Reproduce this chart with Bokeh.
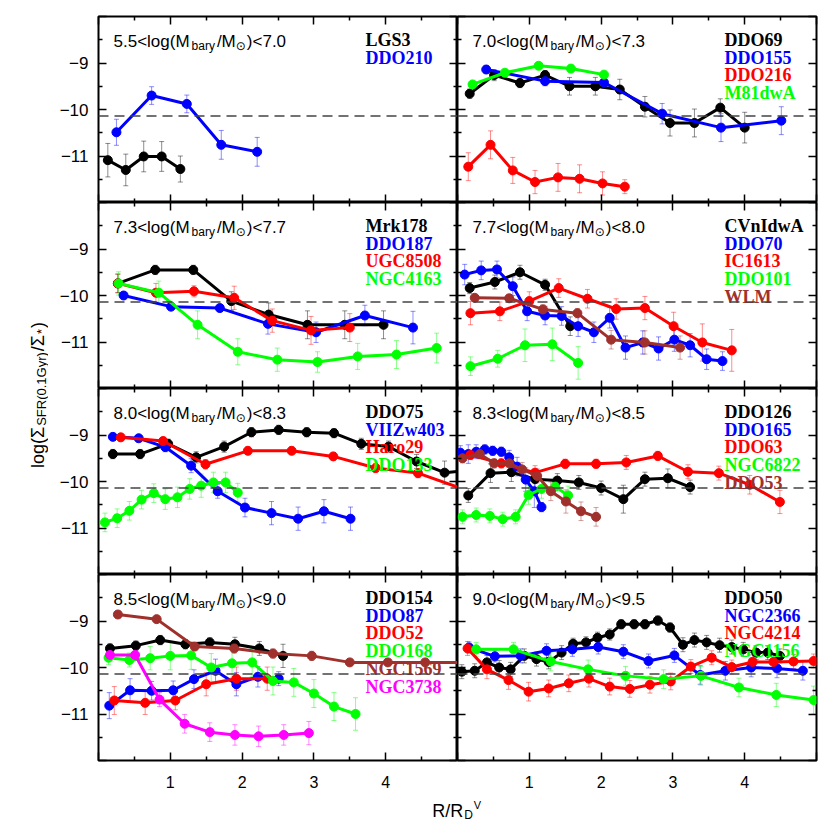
import math
from bokeh.plotting import figure
from bokeh.layouts import gridplot, row, column
from bokeh.models import LinearAxis, FixedTicker, Span, Whisker, TeeHead, ColumnDataSource, Range1d
from bokeh.core.properties import value
from bokeh.embed import file_html
from bokeh.resources import INLINE

# ---------------- axes / ticks ----------------
X_TICKS = [0, 1, 2, 3, 4, 5]
X_MINOR = [0.5, 1.5, 2.5, 3.5, 4.5]
Y_TICKS = [-12, -11, -10, -9, -8]
Y_MINOR = [-11.5, -10.5, -9.5, -8.5]
X_LABELS = {0: "", 1: "1", 2: "2", 3: "3", 4: "4", 5: ""}
Y_LABELS = {-12: "", -11: "\u221211", -10: "\u221210", -9: "\u22129", -8: ""}
MEAN_LEVEL = -10.14

# ---------------- data ----------------
LGS3_x = [0.13, 0.38, 0.63, 0.88, 1.14]
LGS3_y = [-11.09, -11.30, -11.01, -11.01, -11.28]
LGS3_e = [0.36, 0.34, 0.33, 0.32, 0.28]
DDO210_x = [0.25, 0.74, 1.23, 1.71, 2.21]
DDO210_y = [-10.49, -9.70, -9.88, -10.76, -10.91]
DDO210_e = [0.28, 0.19, 0.19, 0.31, 0.31]

DDO69_x = [0.17, 0.51, 0.87, 1.22, 1.56, 1.92, 2.26, 2.61, 2.96, 3.30, 3.66, 4.00]
DDO69_y = [-9.66, -9.26, -9.43, -9.26, -9.50, -9.50, -9.57, -9.94, -10.29, -10.29, -9.96, -10.39]
DDO69_e = [0.10, 0.12, 0.10, 0.10, 0.19, 0.19, 0.22, 0.22, 0.28, 0.30, 0.19, 0.33]
DDO155_x = [0.40, 1.22, 2.04, 2.85, 3.67, 4.51]
DDO155_y = [-9.14, -9.39, -9.42, -10.09, -10.39, -10.24]
DDO155_e = [0.08, 0.10, 0.12, 0.22, 0.30, 0.30]
DDO216_x = [0.15, 0.46, 0.77, 1.08, 1.40, 1.70, 2.02, 2.33]
DDO216_y = [-11.23, -10.76, -11.31, -11.56, -11.46, -11.49, -11.59, -11.66]
DDO216_e = [0.30, 0.30, 0.28, 0.25, 0.30, 0.30, 0.25, 0.15]
M81dwA_x = [0.21, 0.66, 1.13, 1.58, 2.04]
M81dwA_y = [-9.46, -9.21, -9.06, -9.12, -9.25]
M81dwA_e = [0.07, 0.05, 0.05, 0.05, 0.06]

Mrk178_x = [0.27, 0.79, 1.32, 1.85, 2.37, 2.91, 3.43, 3.97]
Mrk178_y = [-9.74, -9.45, -9.45, -10.12, -10.41, -10.63, -10.63, -10.63]
Mrk178_e = [0.20, 0.10, 0.10, 0.20, 0.25, 0.30, 0.30, 0.30]
DDO187_x = [0.35, 1.01, 1.69, 2.36, 3.03, 3.71, 4.38]
DDO187_y = [-10.00, -10.24, -10.27, -10.61, -10.79, -10.43, -10.69]
DDO187_e = [0.07, 0.07, 0.07, 0.22, 0.22, 0.22, 0.35]
UGC8508_x = [0.27, 0.80, 1.33, 1.89, 2.42, 2.96, 3.50]
UGC8508_y = [-9.74, -9.94, -9.91, -10.05, -10.54, -10.75, -10.69]
UGC8508_e = [0.20, 0.20, 0.12, 0.25, 0.25, 0.30, 0.30]
NGC4163_x = [0.28, 0.84, 1.38, 1.94, 2.49, 3.05, 3.61, 4.15, 4.71]
NGC4163_y = [-9.74, -9.94, -10.63, -11.21, -11.38, -11.43, -11.31, -11.27, -11.13]
NGC4163_e = [0.25, 0.25, 0.30, 0.28, 0.25, 0.22, 0.28, 0.30, 0.32]

CVnIdwA_x = [0.17, 0.52, 0.87, 1.22, 1.57]
CVnIdwA_y = [-9.84, -9.71, -9.50, -9.77, -10.66]
CVnIdwA_e = [0.12, 0.15, 0.15, 0.12, 0.20]
DDO70_x = [0.10, 0.33, 0.55, 0.77, 0.97, 1.22, 1.45, 1.68, 1.90, 2.12, 2.34, 2.58, 2.80, 3.02, 3.24, 3.47, 3.69]
DDO70_y = [-9.55, -9.46, -9.44, -9.80, -10.34, -10.43, -10.44, -10.66, -10.79, -10.48, -11.12, -11.01,
           -11.14, -10.95, -11.07, -11.37, -11.41]
DDO70_e = [0.22, 0.20, 0.18, 0.20, 0.20, 0.20, 0.20, 0.22, 0.22, 0.22, 0.25, 0.25, 0.25, 0.25, 0.25, 0.22, 0.20]
IC1613_x = [0.18, 0.59, 1.00, 1.41, 1.81, 2.21, 2.61, 3.01, 3.41, 3.82]
IC1613_y = [-10.38, -10.34, -10.12, -9.84, -10.07, -10.29, -10.27, -10.66, -11.01, -11.18]
IC1613_e = [0.25, 0.20, 0.20, 0.20, 0.20, 0.22, 0.25, 0.30, 0.40, 0.45]
DDO101_x = [0.18, 0.56, 0.94, 1.32, 1.68]
DDO101_y = [-11.52, -11.36, -11.07, -11.05, -11.45]
DDO101_e = [0.20, 0.18, 0.35, 0.35, 0.35]
WLM_x = [0.24, 0.72, 1.19, 1.67, 2.14, 2.61, 3.10]
WLM_y = [-10.05, -10.06, -10.30, -10.38, -10.95, -11.01, -11.12]
WLM_e = [0.05, 0.05, 0.10, 0.10, 0.20, 0.25, 0.25]

DDO75_x = [0.20, 0.58, 0.97, 1.36, 1.75, 2.13, 2.51, 2.90, 3.28, 3.66, 4.04, 4.43, 4.82, 5.20]
DDO75_y = [-9.41, -9.41, -9.19, -9.48, -9.25, -8.94, -8.89, -8.94, -8.96, -9.19, -9.25, -9.57, -9.81, -9.76]
DDO75_e = [0.10, 0.10, 0.10, 0.12, 0.12, 0.10, 0.10, 0.10, 0.10, 0.12, 0.12, 0.15, 0.25, 0.25]
VIIZw403_x = [0.20, 0.56, 0.93, 1.29, 1.66, 2.04, 2.41, 2.78, 3.14, 3.51]
VIIZw403_y = [-9.04, -9.07, -9.26, -9.66, -10.21, -10.56, -10.68, -10.80, -10.64, -10.80]
VIIZw403_e = [0.05, 0.05, 0.10, 0.15, 0.15, 0.20, 0.25, 0.25, 0.25, 0.25]
Haro29_x = [0.31, 0.90, 1.49, 2.08, 2.69, 3.27, 3.86, 4.45, 5.30]
Haro29_y = [-9.05, -9.13, -9.63, -9.34, -9.34, -9.46, -9.71, -9.82, -10.28]
Haro29_e = [0.08, 0.08, 0.10, 0.08, 0.08, 0.08, 0.10, 0.10, 0.10]
DDO133_x = [0.09, 0.26, 0.43, 0.60, 0.77, 0.93, 1.10, 1.27, 1.43, 1.60, 1.77, 1.94]
DDO133_y = [-10.88, -10.79, -10.63, -10.39, -10.25, -10.38, -10.34, -10.16, -10.09, -10.02, -10.02, -10.24]
DDO133_e = [0.20, 0.20, 0.20, 0.20, 0.20, 0.22, 0.22, 0.22, 0.25, 0.22, 0.22, 0.20]

DDO126_x = [0.15, 0.46, 0.75, 1.08, 1.39, 1.69, 2.00, 2.31, 2.61, 2.93, 3.24]
DDO126_y = [-10.30, -9.82, -9.80, -9.95, -9.98, -10.02, -10.14, -10.38, -9.95, -9.93, -10.12]
DDO126_e = [0.15, 0.20, 0.20, 0.20, 0.15, 0.15, 0.15, 0.30, 0.15, 0.20, 0.15]
DDO165_x = [0.04, 0.15, 0.26, 0.38, 0.49, 0.61, 0.72, 0.83, 0.95, 1.07, 1.17]
DDO165_y = [-9.38, -9.41, -9.36, -9.31, -9.34, -9.36, -9.48, -9.68, -9.96, -10.21, -10.55]
DDO165_e = [0.15, 0.20, 0.15, 0.10, 0.10, 0.10, 0.15, 0.20, 0.25, 0.35, 0.10]
DDO63_x = [0.18, 0.61, 1.08, 1.50, 1.93, 2.35, 2.79, 3.21, 3.64, 4.07, 4.49]
DDO63_y = [-9.43, -9.61, -9.81, -9.62, -9.62, -9.59, -9.45, -9.79, -9.82, -10.07, -10.44]
DDO63_e = [0.10, 0.10, 0.15, 0.10, 0.10, 0.15, 0.10, 0.15, 0.15, 0.20, 0.25]
NGC6822_x = [0.07, 0.26, 0.45, 0.63, 0.81, 0.99, 1.17, 1.36, 1.54]
NGC6822_y = [-10.76, -10.72, -10.74, -10.81, -10.76, -10.29, -10.16, -10.11, -10.30]
NGC6822_e = [0.15, 0.15, 0.15, 0.15, 0.15, 0.20, 0.20, 0.20, 0.20]
DDO53_x = [0.07, 0.31, 0.51, 0.72, 0.90, 1.11, 1.30, 1.51, 1.72, 1.93]
DDO53_y = [-9.50, -9.41, -9.61, -9.61, -9.74, -9.88, -10.21, -10.43, -10.64, -10.76]
DDO53_e = [0.10, 0.10, 0.10, 0.15, 0.15, 0.15, 0.20, 0.25, 0.20, 0.20]

DDO154_x = [0.16, 0.52, 0.86, 1.21, 1.55, 1.90, 2.24, 2.57]
DDO154_y = [-9.59, -9.53, -9.41, -9.50, -9.46, -9.50, -9.59, -9.75]
DDO154_e = [0.10, 0.10, 0.10, 0.10, 0.10, 0.15, 0.15, 0.25]
DDO87_x = [0.15, 0.44, 0.74, 1.04, 1.33, 1.63, 1.92, 2.22, 2.51]
DDO87_y = [-10.82, -10.49, -10.50, -10.49, -10.25, -10.07, -10.36, -10.20, -10.24]
DDO87_e = [0.28, 0.25, 0.20, 0.20, 0.20, 0.25, 0.25, 0.22, 0.15]
DDO52_x = [0.22, 0.65, 1.07, 1.50, 1.92, 2.35]
DDO52_y = [-10.71, -10.76, -10.71, -10.36, -10.24, -10.24]
DDO52_e = [0.30, 0.25, 0.20, 0.25, 0.25, 0.25]
DDO168_x = [0.14, 0.43, 0.72, 1.00, 1.29, 1.57, 1.86, 2.14, 2.43, 2.72, 3.00, 3.28, 3.58]
DDO168_y = [-9.79, -9.84, -9.80, -9.75, -9.74, -10.00, -9.91, -9.89, -10.29, -10.32, -10.56, -10.84, -11.00]
DDO168_e = [0.15, 0.15, 0.25, 0.30, 0.30, 0.30, 0.30, 0.30, 0.30, 0.30, 0.30, 0.30, 0.35]
NGC1569_x = [0.27, 0.81, 1.34, 1.89, 2.43, 2.97, 3.50, 4.03, 4.55, 5.10]
NGC1569_y = [-8.86, -8.96, -9.55, -9.59, -9.70, -9.75, -9.89, -9.89, -9.89, -9.89]
NGC1569_e = [0.07, 0.07, 0.07, 0.10, 0.10, 0.10, 0.07, 0.07, 0.07, 0.07]
NGC3738_x = [0.16, 0.51, 0.85, 1.20, 1.55, 1.90, 2.23, 2.58, 2.93]
NGC3738_y = [-9.73, -9.73, -10.69, -11.21, -11.39, -11.45, -11.48, -11.45, -11.41]
NGC3738_e = [0.05, 0.05, 0.15, 0.20, 0.20, 0.22, 0.22, 0.22, 0.25]

DDO50_x = [0.06, 0.24, 0.41, 0.58, 0.74, 0.93, 1.10, 1.27, 1.45, 1.61, 1.79, 1.95, 2.12, 2.28,
           2.46, 2.61, 2.79, 2.96, 3.14, 3.30, 3.47, 3.65, 3.82, 3.98, 4.16, 4.32, 4.49]
DDO50_y = [-10.09, -10.07, -9.89, -10.00, -10.04, -9.75, -9.82, -9.88, -9.68, -9.49, -9.46, -9.36, -9.29,
           -9.07, -9.07, -9.07, -8.99, -9.14, -9.51, -9.41, -9.46, -9.52, -9.56, -9.61, -9.68, -9.68, -9.75]
DDO50_e = [0.15, 0.15, 0.15, 0.15, 0.15, 0.15, 0.15, 0.15, 0.15, 0.12, 0.12, 0.12, 0.12, 0.10,
           0.10, 0.10, 0.10, 0.10, 0.15, 0.15, 0.15, 0.15, 0.15, 0.15, 0.15, 0.15, 0.15]
NGC2366_x = [0.16, 0.52, 0.88, 1.24, 1.60, 1.96, 2.31, 2.66, 3.02, 3.38, 3.73, 4.09, 4.45, 4.81]
NGC2366_y = [-9.57, -9.76, -9.75, -9.64, -9.61, -9.56, -9.66, -9.86, -9.74, -10.16, -10.07, -10.00, -10.02, -10.07]
NGC2366_e = [0.12, 0.12, 0.15, 0.15, 0.15, 0.15, 0.15, 0.15, 0.15, 0.20, 0.20, 0.20, 0.20, 0.20]
NGC4214_x = [0.14, 0.41, 0.71, 0.99, 1.27, 1.55, 1.83, 2.12, 2.40, 2.68, 2.97, 3.25, 3.54, 3.82,
             4.11, 4.40, 4.68, 4.96]
NGC4214_y = [-9.59, -10.04, -10.27, -10.52, -10.45, -10.34, -10.24, -10.41, -10.46, -10.37, -10.30,
             -9.98, -9.79, -9.99, -9.88, -9.88, -9.87, -9.86]
NGC4214_e = [0.15, 0.20, 0.20, 0.20, 0.18, 0.18, 0.18, 0.18, 0.18, 0.18, 0.18, 0.15, 0.15, 0.15,
             0.15, 0.15, 0.15, 0.15]
NGC1156_x = [0.26, 0.78, 1.30, 1.82, 2.34, 2.87, 3.39, 3.92, 4.44, 4.96]
NGC1156_y = [-9.61, -9.61, -9.87, -10.04, -10.18, -10.25, -10.18, -10.43, -10.59, -10.70]
NGC1156_e = [0.15, 0.15, 0.20, 0.20, 0.20, 0.20, 0.20, 0.20, 0.25, 0.30]

MASS_BINS = [("5.5", "7.0"), ("7.0", "7.3"), ("7.3", "7.7"), ("7.7", "8.0"),
             ("8.0", "8.3"), ("8.3", "8.5"), ("8.5", "9.0"), ("9.0", "9.5")]

BLACK, BLUE, RED, GREEN, BROWN, MAGENTA = "#000000", "#0000ff", "#ff0000", "#00ff00", "#a0302c", "#ff00ff"

PANELS = [
    [("LGS3", LGS3_x, LGS3_y, LGS3_e, BLACK), ("DDO210", DDO210_x, DDO210_y, DDO210_e, BLUE)],
    [("DDO69", DDO69_x, DDO69_y, DDO69_e, BLACK), ("DDO155", DDO155_x, DDO155_y, DDO155_e, BLUE),
     ("DDO216", DDO216_x, DDO216_y, DDO216_e, RED), ("M81dwA", M81dwA_x, M81dwA_y, M81dwA_e, GREEN)],
    [("Mrk178", Mrk178_x, Mrk178_y, Mrk178_e, BLACK), ("DDO187", DDO187_x, DDO187_y, DDO187_e, BLUE),
     ("UGC8508", UGC8508_x, UGC8508_y, UGC8508_e, RED), ("NGC4163", NGC4163_x, NGC4163_y, NGC4163_e, GREEN)],
    [("CVnIdwA", CVnIdwA_x, CVnIdwA_y, CVnIdwA_e, BLACK), ("DDO70", DDO70_x, DDO70_y, DDO70_e, BLUE),
     ("IC1613", IC1613_x, IC1613_y, IC1613_e, RED), ("DDO101", DDO101_x, DDO101_y, DDO101_e, GREEN),
     ("WLM", WLM_x, WLM_y, WLM_e, BROWN)],
    [("DDO75", DDO75_x, DDO75_y, DDO75_e, BLACK), ("VIIZw403", VIIZw403_x, VIIZw403_y, VIIZw403_e, BLUE),
     ("Haro29", Haro29_x, Haro29_y, Haro29_e, RED), ("DDO133", DDO133_x, DDO133_y, DDO133_e, GREEN)],
    [("DDO126", DDO126_x, DDO126_y, DDO126_e, BLACK), ("DDO165", DDO165_x, DDO165_y, DDO165_e, BLUE),
     ("DDO63", DDO63_x, DDO63_y, DDO63_e, RED), ("NGC6822", NGC6822_x, NGC6822_y, NGC6822_e, GREEN),
     ("DDO53", DDO53_x, DDO53_y, DDO53_e, BROWN)],
    [("DDO154", DDO154_x, DDO154_y, DDO154_e, BLACK), ("DDO87", DDO87_x, DDO87_y, DDO87_e, BLUE),
     ("DDO52", DDO52_x, DDO52_y, DDO52_e, RED), ("DDO168", DDO168_x, DDO168_y, DDO168_e, GREEN),
     ("NGC1569", NGC1569_x, NGC1569_y, NGC1569_e, BROWN), ("NGC3738", NGC3738_x, NGC3738_y, NGC3738_e, MAGENTA)],
    [("DDO50", DDO50_x, DDO50_y, DDO50_e, BLACK), ("NGC2366", NGC2366_x, NGC2366_y, NGC2366_e, BLUE),
     ("NGC4214", NGC4214_x, NGC4214_y, NGC4214_e, RED), ("NGC1156", NGC1156_x, NGC1156_y, NGC1156_e, GREEN)],
]

# ---------------- layout constants ----------------
FW, FH = 359, 186
X0, X1, Y0, Y1 = 0.0, 5.0, -12.0, -8.0
PX = FW / (X1 - X0)   # px per x unit
PY = FH / (Y1 - Y0)   # px per y unit
TOP_B, BOT_B, LEFT_B, RIGHT_B = 16, 35, 50, 6
YLAB_W, XLAB_H = 48, 33
SANS = "Liberation Sans"
SERIF = "Liberation Serif"

AW = {c: 556 for c in "0123456789"}
AW.update({'.': 278, '<': 584, 'l': 222, 'o': 556, 'g': 556, '(': 333, ')': 333, 'M': 833, '/': 278,
           'b': 556, 'a': 556, 'r': 333, 'y': 500, 'S': 667, 'F': 611, 'R': 722, 'G': 778, 'D': 722,
           'V': 667, '*': 389, '\u03a3': 620, '\u2299': 838})


def tw(s, size):
    return sum(AW.get(ch, 556) for ch in s) * size / 1000.0


def add_axis(p, side, labeled):
    if side in ("below", "above"):
        ax = LinearAxis(ticker=FixedTicker(ticks=X_TICKS, minor_ticks=X_MINOR))
    else:
        ax = LinearAxis(ticker=FixedTicker(ticks=Y_TICKS, minor_ticks=Y_MINOR))
    ax.major_tick_in = 8
    ax.major_tick_out = 0
    ax.minor_tick_in = 4
    ax.minor_tick_out = 0
    ax.major_tick_line_width = 1.5
    ax.minor_tick_line_width = 1.5
    ax.major_tick_line_color = "black"
    ax.minor_tick_line_color = "black"
    ax.axis_line_color = None
    if labeled:
        if side == "below":
            ax.major_label_overrides = X_LABELS
            ax.major_label_standoff = 15
            ax.major_label_text_font_size = "16px"
        else:
            ax.major_label_overrides = Y_LABELS
            ax.major_label_standoff = 10
            ax.major_label_text_font_size = "17px"
        ax.major_label_text_font = SANS
        ax.major_label_text_color = "black"
    else:
        ticks = X_TICKS if side in ("below", "above") else Y_TICKS
        ax.major_label_overrides = {t: "" for t in ticks}
        ax.major_label_text_font_size = "0px"
        ax.major_label_standoff = 0
    p.add_layout(ax, side)


def make_panel(idx):
    r, c = divmod(idx, 2)
    p = figure(frame_width=FW, frame_height=FH, x_range=Range1d(X0, X1), y_range=Range1d(Y0, Y1),
               x_axis_type=None, y_axis_type=None, output_backend="svg", toolbar_location=None,
               min_border_left=LEFT_B if c == 0 else 0, min_border_right=RIGHT_B if c == 1 else 0,
               min_border_top=TOP_B if r == 0 else 0, min_border_bottom=BOT_B if r == 3 else 0)
    p.outline_line_color = "black"
    p.outline_line_width = 2
    p.background_fill_color = "white"
    p.border_fill_color = "white"
    add_axis(p, "below", r == 3)
    add_axis(p, "above", False)
    add_axis(p, "left", c == 0)
    add_axis(p, "right", False)

    p.add_layout(Span(location=MEAN_LEVEL, dimension="width", line_color="#444444",
                      line_width=1.5, line_dash="10 6"))

    for name, xs, ys, es, col in PANELS[idx]:
        src = ColumnDataSource(dict(x=xs, y=ys,
                                    lo=[y - e for y, e in zip(ys, es)],
                                    hi=[y + e for y, e in zip(ys, es)]))
        p.add_layout(Whisker(base="x", upper="hi", lower="lo", source=src,
                             line_color=col, line_alpha=0.45, line_width=1,
                             upper_head=TeeHead(size=5, line_color=col, line_alpha=0.45, line_width=1),
                             lower_head=TeeHead(size=5, line_color=col, line_alpha=0.45, line_width=1)))
        p.line("x", "y", source=src, line_color=col, line_width=3)
        p.scatter("x", "y", source=src, size=9, marker="circle", fill_color=col, line_color=col)

    # title: lo<log(M_bary/M_sun)<hi
    lo, hi = MASS_BINS[idx]
    segs = [(f"{lo}<log(M", 17, 0, 2), ("bary", 12, 4, 2), ("/M", 17, 0, 0),
            ("\u2299", 12, 4, 1), (f")<{hi}", 17, 0, 0)]
    xpx = 15.0
    for s, fs, dy, gap in segs:
        font = "DejaVu Sans" if s == "\u2299" else SANS
        p.text(x=[X0 + xpx / PX], y=[Y1 - (25 + dy) / PY], text=[s], text_font=value(font),
               text_font_size=value(f"{fs}px"), text_color="black",
               text_align="left", text_baseline="alphabetic")
        xpx += tw(s, fs) + gap

    # galaxy names
    names = [s[0] for s in PANELS[idx]]
    cols = [s[4] for s in PANELS[idx]]
    nsrc = ColumnDataSource(dict(x=[X0 + 267 / PX] * len(names),
                                 y=[Y1 - (23.5 + 17.7 * i) / PY for i in range(len(names))],
                                 t=names, c=cols))
    p.text(x="x", y="y", text="t", text_color="c", source=nsrc, text_font=value(SERIF),
           text_font_size=value("18px"), text_font_style="bold",
           text_align="left", text_baseline="alphabetic")
    return p


panels = [make_panel(i) for i in range(8)]
grid = gridplot([[panels[0], panels[1]], [panels[2], panels[3]],
                 [panels[4], panels[5]], [panels[6], panels[7]]], toolbar_location=None)

GRID_H = TOP_B + 4 * FH + BOT_B
GRID_W = (LEFT_B + FW) + (FW + RIGHT_B)


def label_fig(w, h):
    f = figure(frame_width=w, frame_height=h, x_range=Range1d(0, w), y_range=Range1d(0, h),
               x_axis_type=None, y_axis_type=None, output_backend="svg", toolbar_location=None,
               min_border=0, min_border_left=0, min_border_right=0, min_border_top=0, min_border_bottom=0)
    f.outline_line_color = None
    f.background_fill_color = "white"
    f.border_fill_color = "white"
    return f


# y-axis label (rotated), centred on page y ~ 394
ylab = label_fig(YLAB_W, GRID_H)
ysegs = [("log(\u03a3", 18, 0), ("SFR(0.1Gyr)", 13, 4), ("/\u03a3", 18, 0), ("*", 13, 4), (")", 18, 0)]
total = sum(tw(s, fs) + 1 for s, fs, _ in ysegs)
ypos = (GRID_H - 394) - total / 2
for s, fs, dy in ysegs:
    ylab.text(x=[37 + dy], y=[ypos], text=[s], angle=math.pi / 2, text_font=value(SANS),
              text_font_size=value(f"{fs}px"), text_color="black",
              text_align="left", text_baseline="alphabetic")
    ypos += tw(s, fs) + 1

# x-axis label, centred on page x ~ 457
xlab = label_fig(YLAB_W + GRID_W, XLAB_H)
xsegs = [("R/R", 18, 0, 18), ("D", 12, 4, 12), ("V", 12, -6, 11)]
total = sum(tw(s, fs) + 1 for s, fs, _, _ in xsegs)
xpos = 457 - total / 2
for s, fs, dy, fsz in xsegs:
    xlab.text(x=[xpos], y=[18 - dy], text=[s], text_font=value(SANS),
              text_font_size=value(f"{fsz}px"), text_color="black",
              text_align="left", text_baseline="alphabetic")
    xpos += tw(s, fs) + 1

layout = column(row(ylab, grid), xlab)
open("out.html", "w").write(file_html(layout, INLINE))
